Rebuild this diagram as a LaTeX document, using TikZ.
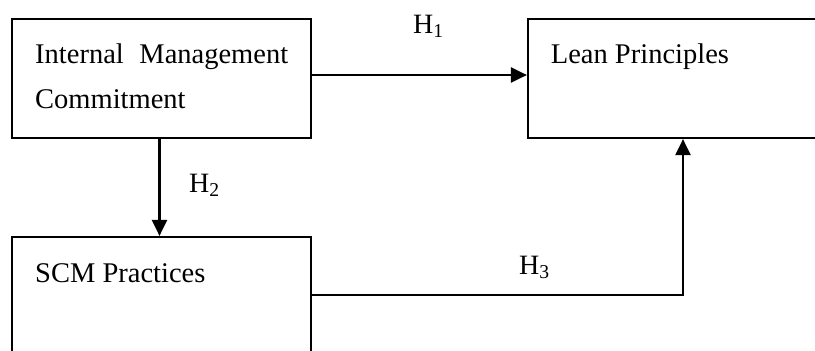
\documentclass[tikz,border=0pt]{standalone}
\usepackage{fontspec}
\setmainfont{Liberation Serif}
\usetikzlibrary{arrows.meta,calc}
\begin{document}
\begin{tikzpicture}[x=1pt,y=-1pt,
  box/.style={draw,line width=2.2pt,inner sep=0pt,rectangle},
  txt/.style={inner sep=0pt,anchor=base west,font=\fontsize{28.5}{34}\selectfont},
  lab/.style={inner sep=0pt,anchor=base west,font=\fontsize{28}{34}\selectfont},
  conn/.style={line width=2.2pt,-{Triangle[length=16pt,width=15pt]}}]
\useasboundingbox (0,0) rectangle (815,351);
\clip (0,0) rectangle (815,351);
\fill[white] (0,0) rectangle (815,351);
\node[box,minimum width=299pt,minimum height=119pt] (imc) at (161.5,78.5) {};
\node[box,minimum width=310pt,minimum height=119pt] (lean) at (683,78.5) {};
\node[box,minimum width=299pt,minimum height=116pt] (scm) at (161.5,295) {};
\node[txt] (t1) at (35,63) {\hbox to 253pt{Internal\hfill Management}};
\node[txt] (t2) at (35,108) {Commitment};
\node[txt] (t3) at (550.7,63) {Lean Principles};
\node[txt] (t4) at (35,282) {SCM Practices};
\node[lab] (h1) at (413,33) {H\textsubscript{1}};
\node[lab] (h2) at (189,192) {H\textsubscript{2}};
\node[lab] (h3) at (519,274) {H\textsubscript{3}};
\draw[conn] ([yshift=3.5pt]imc.east) -- ([yshift=3.5pt]lean.west);
\draw[conn] ([xshift=-2pt]imc.south) -- ([xshift=-2pt]scm.north);
\draw[conn] (scm.east) -| (lean.south);
\end{tikzpicture}
\end{document}
